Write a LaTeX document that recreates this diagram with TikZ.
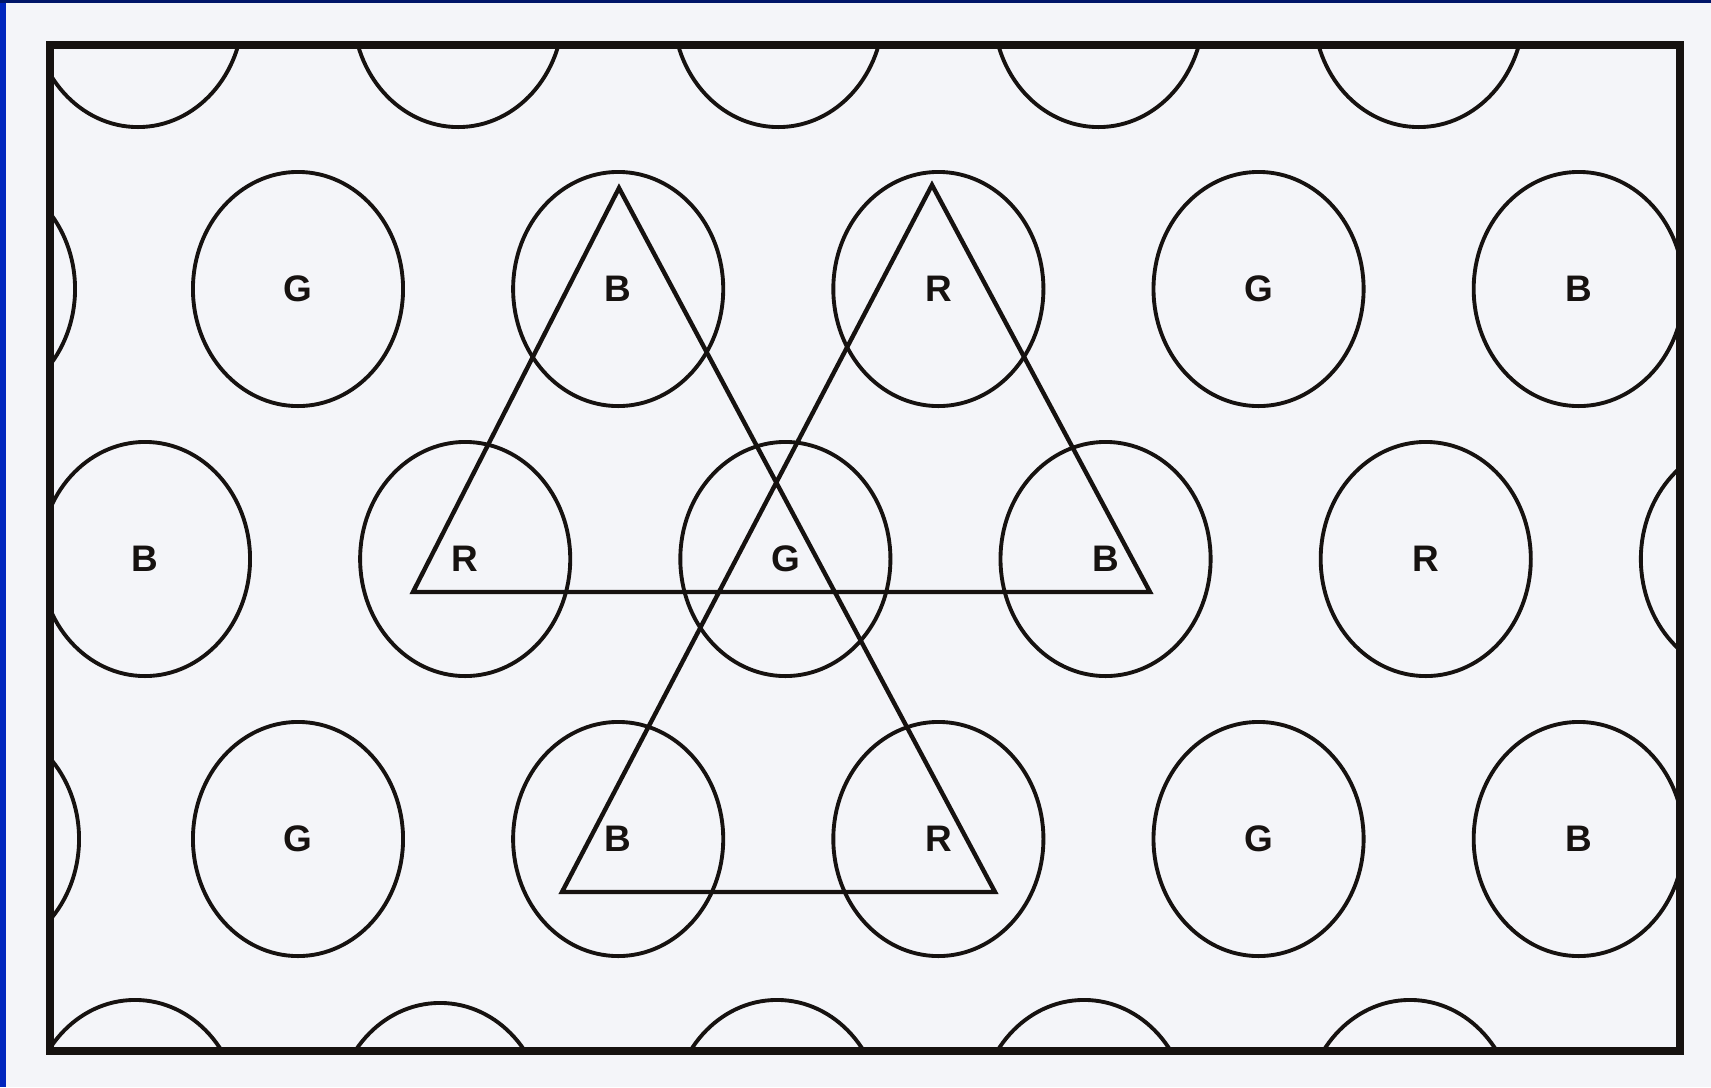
\documentclass[tikz,border=0pt]{standalone}
\usepackage{fontspec}
\setsansfont{Liberation Sans}
\usetikzlibrary{positioning, shapes.geometric}

\definecolor{paper}{RGB}{244,245,249}
\definecolor{ink}{RGB}{22,18,16}
\definecolor{slideblue}{RGB}{0,38,190}
\definecolor{slidenavy}{RGB}{0,22,105}

\begin{document}
\begin{tikzpicture}[
    x=0.01cm, y=-0.01cm,
    font=\sffamily\bfseries\fontsize{10.5}{12}\selectfont,
    dot/.style={ellipse, draw=ink, line width=1.1pt, minimum width=2.1cm, minimum height=2.34cm, inner sep=0pt, outer sep=0pt, text=ink},
    frame/.style={draw=ink, line width=2.3pt},
    triad/.style={draw=ink, line width=1.25pt, line join=miter}
  ]
    \useasboundingbox (0,0) rectangle (1711,1087);
    \fill[paper] (0,0) rectangle (1711,1087);
    \fill[slideblue] (0,0) rectangle (6,1087);
    \fill[slidenavy] (0,0) rectangle (1711,3);

    \begin{scope}
      \clip (50,45) rectangle (1680,1051);
      % ==========================================
      \node[dot] (t1) at (138,10) {};
      \node[dot, right=1.1cm of t1] (t2) {};
      \node[dot, right=1.1cm of t2] (t3) {};
      \node[dot, right=1.1cm of t3] (t4) {};
      \node[dot, right=1.1cm of t4] (t5) {};

      % ==========================================
      \node[dot] (a0) at (-30,289) {};
      \node[dot] (a1) at (298,289) {G};
      \node[dot, right=1.1cm of a1] (a2) {B};
      \node[dot, right=1.1cm of a2] (a3) {R};
      \node[dot, right=1.1cm of a3] (a4) {G};
      \node[dot, right=1.1cm of a4] (a5) {B};

      % ==========================================
      \node[dot] (b1) at (145,559) {B};
      \node[dot, right=1.1cm of b1] (b2) {R};
      \node[dot, right=1.1cm of b2] (b3) {G};
      \node[dot, right=1.1cm of b3] (b4) {B};
      \node[dot, right=1.1cm of b4] (b5) {R};
      \node[dot, right=1.1cm of b5] (b6) {};

      % ==========================================
      \node[dot] (c0) at (-26,839) {};
      \node[dot] (c1) at (298,839) {G};
      \node[dot, right=1.1cm of c1] (c2) {B};
      \node[dot, right=1.1cm of c2] (c3) {R};
      \node[dot, right=1.1cm of c3] (c4) {G};
      \node[dot, right=1.1cm of c4] (c5) {B};

      % ==========================================
      \node[dot] (u1) at (135,1117) {};
      \node[dot] (u2) at (440,1120) {};
      \node[dot] (u3) at (777,1117) {};
      \node[dot] (u4) at (1084,1117) {};
      \node[dot] (u5) at (1410,1117) {};
    \end{scope}

    % ==========================================
    \coordinate (btop)   at (619,188);
    \coordinate (rleft)  at (413,592);
    \coordinate (bright) at (1150,592);
    \coordinate (rtop)   at (932,185);
    \coordinate (blow)   at (562,892);
    \coordinate (rlow)   at (995,892);
    \draw[triad] (btop) -- (rleft) -- (bright) -- (rtop) -- (blow) -- (rlow) -- cycle;

    \draw[frame] (50,45) rectangle (1680,1051);

  \end{tikzpicture}
\end{document}
